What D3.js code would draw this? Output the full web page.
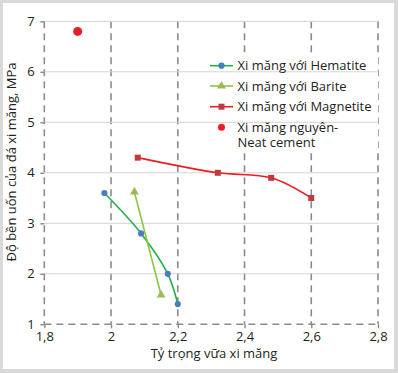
<!DOCTYPE html>
<html>
<head>
<meta charset="utf-8">
<script src="https://cdn.jsdelivr.net/npm/d3@7"></script>
<style>
  body { margin: 0; background: #fff; }
  svg text { font-family: "Open Sans", "Noto Sans", sans-serif; fill: #231f20; }
</style>
</head>
<body>
<svg id="chart" width="398" height="373"></svg>
<script>
const xTicks = [1.8, 2, 2.2, 2.4, 2.6, 2.8]
const yTicks = [1, 2, 3, 4, 5, 6, 7]

const hematiteX = [1.98, 2.09, 2.17, 2.2]
const hematiteY = [3.6, 2.8, 2.0, 1.4]
const bariteX = [2.07, 2.15]
const bariteY = [3.62, 1.58]
const magnetiteX = [2.08, 2.32, 2.48, 2.6]
const magnetiteY = [4.3, 4.0, 3.9, 3.5]
const neatX = [1.9]
const neatY = [6.8]

// each legend label may wrap over several lines
const seriesNames = [
  ['Xi măng với Hematite'],
  ['Xi măng với Barite'],
  ['Xi măng với Magnetite'],
  ['Xi măng nguyên-', 'Neat cement']
]

const svg = d3.select('#chart')

// outer frame
svg.append('rect').attr('x', 0).attr('y', 0).attr('width', 398).attr('height', 373).attr('fill', '#d9d9d9')
svg.append('rect').attr('x', 3).attr('y', 3).attr('width', 391).attr('height', 366).attr('fill', '#fff')

const x = d3.scaleLinear().domain([1.8, 2.8]).range([44.3, 378])
const y = d3.scaleLinear().domain([1, 7]).range([324.3, 21.3])

const pts = (xs, ys) => xs.map((v, i) => [v, ys[i]])

// vertical dashed grid
svg.append('g')
  .selectAll('line')
  .data(xTicks)
  .enter()
  .append('line')
  .attr('x1', d => x(d)).attr('x2', d => x(d))
  .attr('y1', y(7)).attr('y2', y(1))
  .attr('stroke', '#8c8c8c')
  .attr('stroke-width', 1.6)
  .attr('stroke-dasharray', '7,5')

// legend background
svg.append('rect')
  .attr('x', 206).attr('y', 56).attr('width', 172).attr('height', 94)
  .attr('fill', '#fff')

// horizontal grid
svg.append('g')
  .selectAll('line')
  .data(yTicks.filter(d => d > 1))
  .enter()
  .append('line')
  .attr('x1', x(1.8)).attr('x2', x(2.8))
  .attr('y1', d => y(d)).attr('y2', d => y(d))
  .attr('stroke', '#d4d4d4')
  .attr('stroke-width', 1)

// bottom dashed axis
svg.append('line')
  .attr('x1', x(1.8)).attr('x2', x(2.8))
  .attr('y1', y(1)).attr('y2', y(1))
  .attr('stroke', '#8c8c8c')
  .attr('stroke-width', 1.6)
  .attr('stroke-dasharray', '7,5')

// axes (ticks + labels)
const fmt = d => String(d).replace('.', ',')
const xAxis = d3.axisBottom(x).tickValues(xTicks).tickFormat(fmt).tickSize(4).tickSizeOuter(0)
const yAxis = d3.axisLeft(y).tickValues(yTicks).tickFormat(fmt).tickSize(4).tickSizeOuter(0)

const gx = svg.append('g').attr('transform', 'translate(0,' + y(1) + ')').call(xAxis)
const gy = svg.append('g').attr('transform', 'translate(' + x(1.8) + ',0)').call(yAxis)
;[gx, gy].forEach(g => {
  g.select('.domain').remove()
  g.selectAll('.tick line').attr('stroke', '#8c8c8c').attr('stroke-width', 1.4)
  g.selectAll('.tick text').attr('font-size', 13).attr('fill', '#231f20')
    .style('font-family', '"Open Sans", "Noto Sans", sans-serif')
})
gx.selectAll('.tick text').attr('dy', '0.72em')
gy.selectAll('.tick text').attr('dx', '-0.2em')

// axis titles
svg.append('text')
  .attr('x', 214).attr('y', 358)
  .attr('text-anchor', 'middle')
  .attr('font-size', 13)
  .text('Tỷ trọng vữa xi măng')

svg.append('text')
  .attr('transform', 'translate(16,162) rotate(-90)')
  .attr('text-anchor', 'middle')
  .attr('font-size', 13)
  .text('Độ bền uốn của đá xi măng, MPa')

// lines
const curve = d3.line().x(d => x(d[0])).y(d => y(d[1])).curve(d3.curveCatmullRom)

svg.append('path').datum(pts(hematiteX, hematiteY))
  .attr('d', curve).attr('fill', 'none').attr('stroke', '#1db04b').attr('stroke-width', 1.6)
svg.append('path').datum(pts(bariteX, bariteY))
  .attr('d', curve).attr('fill', 'none').attr('stroke', '#8dc63f').attr('stroke-width', 1.6)
svg.append('path').datum(pts(magnetiteX, magnetiteY))
  .attr('d', curve).attr('fill', 'none').attr('stroke', '#ed1c24').attr('stroke-width', 1.6)

// markers
const dot = d3.symbol().type(d3.symbolCircle).size(30)
const tri = d3.symbol().type(d3.symbolTriangle).size(34)
const sq = d3.symbol().type(d3.symbolSquare).size(36)

svg.append('g').selectAll('path').data(pts(hematiteX, hematiteY)).enter().append('path')
  .attr('d', dot).attr('transform', d => 'translate(' + x(d[0]) + ',' + y(d[1]) + ')')
  .attr('fill', '#4a7ebb')
svg.append('g').selectAll('path').data(pts(bariteX, bariteY)).enter().append('path')
  .attr('d', tri).attr('transform', d => 'translate(' + x(d[0]) + ',' + y(d[1]) + ')')
  .attr('fill', '#9bbb59')
svg.append('g').selectAll('path').data(pts(magnetiteX, magnetiteY)).enter().append('path')
  .attr('d', sq).attr('transform', d => 'translate(' + x(d[0]) + ',' + y(d[1]) + ')')
  .attr('fill', '#be3a3f')
svg.append('g').selectAll('circle').data(pts(neatX, neatY)).enter().append('circle')
  .attr('cx', d => x(d[0])).attr('cy', d => y(d[1])).attr('r', 4.5)
  .attr('fill', '#ed1c24')

// legend
const legend = svg.append('g').attr('transform', 'translate(210,0)')
const rowsY = [65.7, 86, 106.7, 127.3]
const lineColors = ['#1db04b', '#8dc63f', '#ed1c24', null]
const markers = [dot, tri, sq, null]
const markerColors = ['#4a7ebb', '#9bbb59', '#be3a3f', '#ed1c24']

seriesNames.forEach((lines, i) => {
  const ry = rowsY[i]
  if (lineColors[i]) {
    legend.append('line').attr('x1', 0).attr('x2', 23).attr('y1', ry).attr('y2', ry)
      .attr('stroke', lineColors[i]).attr('stroke-width', 1.6)
  }
  if (markers[i]) {
    legend.append('path').attr('d', markers[i]).attr('transform', 'translate(11.5,' + ry + ')')
      .attr('fill', markerColors[i])
  } else {
    legend.append('circle').attr('cx', 11.5).attr('cy', ry).attr('r', 3.5).attr('fill', markerColors[i])
  }
  const t = legend.append('text').attr('x', 27.5).attr('y', ry + 4.5).attr('font-size', 13)
  lines.forEach((s, j) => {
    t.append('tspan').attr('x', 27.5).attr('dy', j === 0 ? 0 : 15.5).text(s)
  })
})
</script>
</body>
</html>
